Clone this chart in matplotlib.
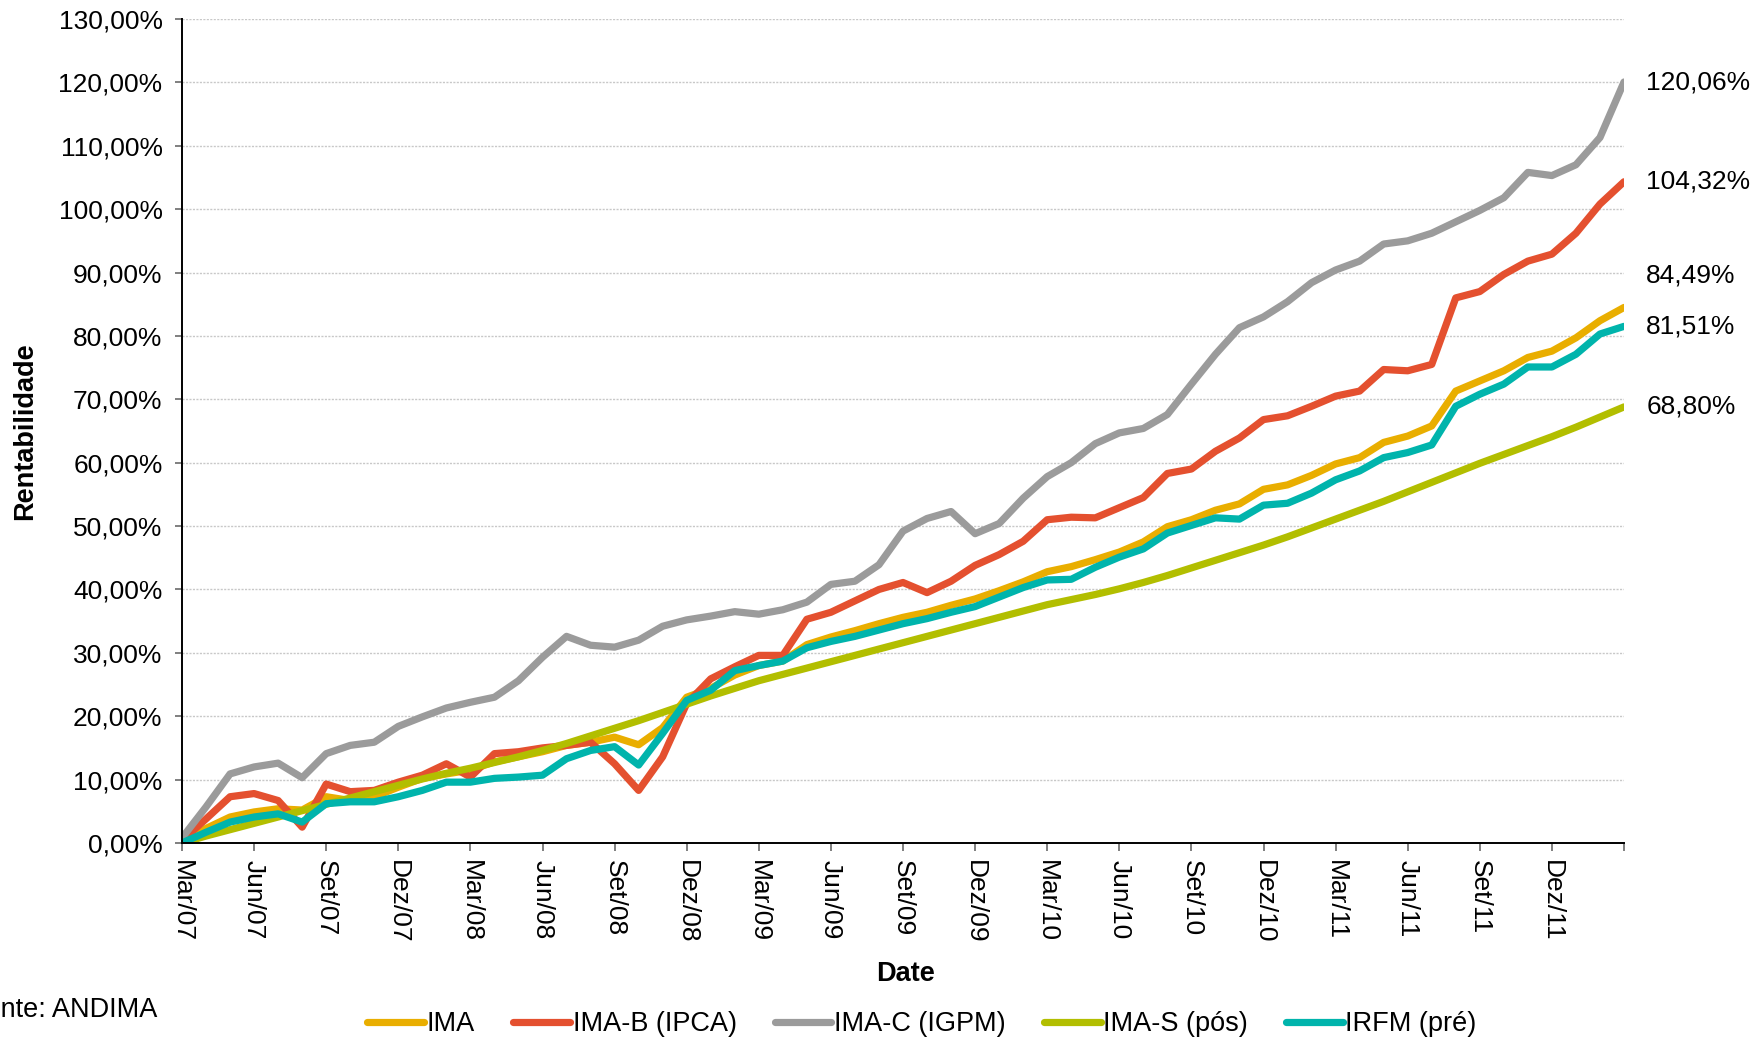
import matplotlib
matplotlib.use("Agg")
import matplotlib.pyplot as plt
import numpy as np

plt.rcParams['font.family'] = ['Liberation Sans', 'DejaVu Sans']

# monthly index: 0 = Mar/07 ... 60 = Mar/12
months = list(range(61))

ima = [0.0, 2.3, 4.1, 4.9, 5.4, 5.2, 7.3, 6.7, 7.3, 8.8,
       10.2, 10.9, 11.5, 12.8, 13.6, 14.4, 15.4, 15.9, 16.7, 15.5,
       18.2, 23.0, 24.4, 26.5, 28.0, 28.7, 31.3, 32.5, 33.5, 34.6,
       35.6, 36.4, 37.5, 38.5, 39.8, 41.2, 42.8, 43.6, 44.7, 45.9,
       47.5, 49.9, 51.0, 52.5, 53.5, 55.8, 56.5, 58.0, 59.8, 60.8,
       63.2, 64.2, 65.8, 71.3, 72.9, 74.5, 76.6, 77.6, 79.7, 82.4,
       84.49]

ima_b = [0.4, 3.8, 7.3, 7.8, 6.7, 2.5, 9.3, 8.1, 8.3, 9.6,
         10.7, 12.5, 10.4, 14.1, 14.4, 15.0, 15.4, 15.9, 12.5, 8.3,
         13.6, 22.0, 25.9, 27.8, 29.6, 29.6, 35.3, 36.4, 38.2, 40.0,
         41.1, 39.5, 41.3, 43.8, 45.5, 47.6, 51.0, 51.4, 51.3, 52.9,
         54.5, 58.3, 59.0, 61.8, 63.9, 66.8, 67.4, 68.9, 70.5, 71.3,
         74.7, 74.5, 75.5, 86.0, 87.0, 89.7, 91.8, 92.9, 96.2, 100.8,
         104.32]

ima_c = [0.8, 5.7, 10.9, 12.0, 12.6, 10.3, 14.1, 15.4, 15.9, 18.4,
         19.9, 21.3, 22.2, 23.0, 25.6, 29.3, 32.6, 31.2, 30.9, 32.0,
         34.2, 35.2, 35.8, 36.5, 36.1, 36.8, 38.0, 40.8, 41.3, 43.9,
         49.2, 51.2, 52.3, 48.8, 50.4, 54.4, 57.8, 60.0, 63.0, 64.7,
         65.4, 67.6, 72.4, 77.1, 81.3, 83.0, 85.4, 88.4, 90.4, 91.8,
         94.5, 95.0, 96.2, 98.0, 99.8, 101.8, 105.8, 105.3, 107.0, 111.3,
         120.06]

ima_s = [0.0, 1.1, 2.1, 3.1, 4.1, 5.1, 6.1, 7.1, 8.1, 9.1,
         10.1, 11.0, 11.8, 12.7, 13.6, 14.6, 15.7, 16.9, 18.1, 19.3,
         20.6, 21.9, 23.2, 24.4, 25.6, 26.6, 27.6, 28.6, 29.6, 30.6,
         31.6, 32.6, 33.6, 34.6, 35.6, 36.6, 37.6, 38.4, 39.2, 40.1,
         41.1, 42.2, 43.4, 44.6, 45.8, 47.0, 48.3, 49.7, 51.1, 52.5,
         53.9, 55.4, 56.9, 58.4, 59.9, 61.3, 62.7, 64.1, 65.6, 67.2,
         68.8]

irfm = [0.0, 1.7, 3.3, 4.1, 4.6, 3.3, 6.2, 6.5, 6.5, 7.3,
        8.3, 9.6, 9.6, 10.2, 10.4, 10.7, 13.3, 14.6, 15.2, 12.3,
        17.3, 22.5, 24.1, 27.2, 28.0, 28.7, 30.8, 31.8, 32.6, 33.6,
        34.6, 35.4, 36.4, 37.3, 38.8, 40.3, 41.5, 41.6, 43.5, 45.1,
        46.4, 48.9, 50.1, 51.3, 51.1, 53.3, 53.6, 55.2, 57.3, 58.7,
        60.8, 61.6, 62.8, 68.9, 70.8, 72.4, 75.1, 75.1, 77.1, 80.3,
        81.51]

series_names = ['IMA', 'IMA-B (IPCA)', 'IMA-C (IGPM)', 'IMA-S (pós)', 'IRFM (pré)']
series_vals = [ima, ima_b, ima_c, ima_s, irfm]
colors = ['#E9AE00', '#E4502F', '#9B9B9B', '#B2BE00', '#00B4AC']

tick_pos = list(range(0, 61, 3))
tick_labels = ['Mar/07', 'Jun/07', 'Set/07', 'Dez/07', 'Mar/08', 'Jun/08', 'Set/08', 'Dez/08',
               'Mar/09', 'Jun/09', 'Set/09', 'Dez/09', 'Mar/10', 'Jun/10', 'Set/10', 'Dez/10',
               'Mar/11', 'Jun/11', 'Set/11', 'Dez/11', '']
end_labels = ['84,49%', '104,32%', '120,06%', '68,80%', '81,51%']
end_offsets = [(16, 23), (16, 0), (16, 0), (16, 0), (16, 0)]

fig = plt.figure(figsize=(17.62, 10.41), dpi=100)
ax = fig.add_axes([182/1762, 1 - 843/1041, (1624-182)/1762, (843-19)/1041])

handles = []
for name, vals, col in zip(series_names, series_vals, colors):
    h, = ax.plot(months, vals, color=col, lw=5.2, solid_joinstyle='round',
                 solid_capstyle='round', label=name)
    handles.append(h)

for vals, lab, off in zip(series_vals, end_labels, end_offsets):
    ax.annotate(lab, xy=(months[-1], vals[-1]), xytext=off, textcoords='offset points',
                ha='left', va='center', fontsize=19, color='black', annotation_clip=False)

ax.set_xlim(0, 60)
ax.set_ylim(0, 130)
ax.set_yticks(np.arange(0, 131, 10))
ax.set_yticklabels([f"{v:.2f}".replace('.', ',') + '%' for v in np.arange(0, 131, 10)])
ax.set_xticks(tick_pos)
ax.set_xticklabels(tick_labels, rotation=270, ha='center', va='top')

ax.grid(axis='y', color='#C8C8C8', linestyle=(0, (1.5, 1.0)), lw=1.0)
ax.set_axisbelow(True)
for s in ['top', 'right']:
    ax.spines[s].set_visible(False)
for s in ['left', 'bottom']:
    ax.spines[s].set_color('black')
    ax.spines[s].set_linewidth(1.4)

ax.tick_params(axis='y', length=5, width=1.4, color='#7F7F7F', pad=9, labelsize=19)
ax.tick_params(axis='x', length=6, width=1.4, color='#7F7F7F', pad=6, labelsize=19)

fig.text(25/1762, 1 - 431/1041, 'Rentabilidade', rotation=90, fontsize=19.5,
         fontweight='bold', ha='center', va='center')
fig.text(906/1762, 1 - 974/1041, 'Date', fontsize=19.5, fontweight='bold',
         ha='center', va='center')
fig.text(157/1762, 1 - 1010/1041, 'Fonte: ANDIMA', fontsize=19.5, ha='right', va='center')

fig.legend(handles=handles, labels=series_names, loc='center', ncol=5,
           bbox_to_anchor=(922/1762, 1 - 1024/1041), frameon=False, fontsize=19.5,
           handlelength=2.1, handletextpad=0.1, columnspacing=1.4)

fig.savefig('out.png', dpi=100)
